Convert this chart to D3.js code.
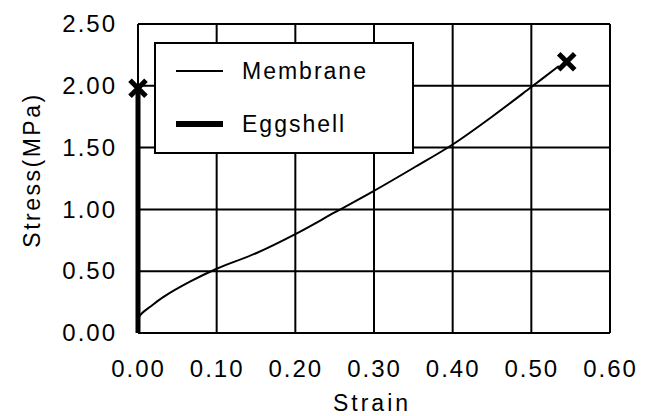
<!DOCTYPE html>
<html>
<head>
<meta charset="utf-8">
<script src="https://cdn.jsdelivr.net/npm/d3@7"></script>
<style>
  body { margin: 0; background: #fff; }
  text { font-family: "Liberation Sans", Arial, sans-serif; fill: #000; }
</style>
</head>
<body>
<div id="chart"></div>
<script>
// datos
const xTicks = [0, 0.1, 0.2, 0.3, 0.4, 0.5, 0.6];
const yTicks = [0, 0.5, 1.0, 1.5, 2.0, 2.5];

const membraneStrain = [0, 0.005, 0.015, 0.032, 0.066, 0.1, 0.15, 0.2, 0.25, 0.3, 0.35, 0.4, 0.45, 0.5, 0.535];
const membraneStress = [0.12, 0.16, 0.21, 0.29, 0.415, 0.52, 0.645, 0.80, 0.975, 1.15, 1.335, 1.525, 1.75, 1.99, 2.16];

const eggshellStrain = [0, 0];
const eggshellStress = [0, 1.98];

// puntos de rotura (X)
const breakStrain = [0, 0.545];
const breakStress = [1.98, 2.195];

const seriesNames = ["Membrane", "Eggshell"];

const width = 650, height = 416;
const margin = { top: 24, right: 40, bottom: 83, left: 138 };

const svg = d3.select("#chart")
  .append("svg")
  .attr("width", width)
  .attr("height", height);

const x = d3.scaleLinear().domain([0, 0.6]).range([margin.left, width - margin.right]);
const y = d3.scaleLinear().domain([0, 2.5]).range([height - margin.bottom, margin.top]);

// rejilla
svg.append("g")
  .selectAll("line.vgrid")
  .data(xTicks)
  .enter()
  .append("line")
  .attr("x1", d => x(d)).attr("x2", d => x(d))
  .attr("y1", y(0)).attr("y2", y(2.5))
  .style("stroke", "#000")
  .style("stroke-width", 2);

svg.append("g")
  .selectAll("line.hgrid")
  .data(yTicks)
  .enter()
  .append("line")
  .attr("x1", x(0)).attr("x2", x(0.6))
  .attr("y1", d => y(d)).attr("y2", d => y(d))
  .style("stroke", "#000")
  .style("stroke-width", 2);

// ejes (solo etiquetas)
const xAxis = svg.append("g")
  .attr("transform", `translate(0,${y(0)})`)
  .call(d3.axisBottom(x).tickValues(xTicks).tickFormat(d3.format(".2f")).tickSize(0).tickPadding(27));
xAxis.select(".domain").remove();
xAxis.selectAll("text")
  .style("font-size", "24px")
  .style("letter-spacing", "2px")
  .style("font-family", "'Liberation Sans', Arial, sans-serif");

const yAxis = svg.append("g")
  .attr("transform", `translate(${x(0)},0)`)
  .call(d3.axisLeft(y).tickValues(yTicks).tickFormat(d3.format(".2f")).tickSize(0).tickPadding(21));
yAxis.select(".domain").remove();
yAxis.selectAll("text")
  .style("font-size", "24px")
  .style("letter-spacing", "2px")
  .style("font-family", "'Liberation Sans', Arial, sans-serif");

// titulos de ejes
svg.append("text")
  .attr("x", (x(0) + x(0.6)) / 2 - 2)
  .attr("y", 411)
  .style("text-anchor", "middle")
  .style("font-size", "23px")
  .style("letter-spacing", "3px")
  .text("Strain");

svg.append("text")
  .attr("transform", "translate(40,170) rotate(-90)")
  .style("text-anchor", "middle")
  .style("font-size", "23px")
  .style("letter-spacing", "2.5px")
  .text("Stress(MPa)");

// lineas
const line = d3.line().x(d => x(d[0])).y(d => y(d[1]));

svg.append("path")
  .datum(d3.zip(eggshellStrain, eggshellStress))
  .attr("d", line)
  .style("fill", "none")
  .style("stroke", "#000")
  .style("stroke-width", 5);

svg.append("path")
  .datum(d3.zip(membraneStrain, membraneStress))
  .attr("d", line.curve(d3.curveCatmullRom.alpha(0.5)))
  .style("fill", "none")
  .style("stroke", "#000")
  .style("stroke-width", 2);

// marcadores X
svg.append("g")
  .selectAll("path.mark")
  .data(d3.zip(breakStrain, breakStress))
  .enter()
  .append("path")
  .attr("transform", d => `translate(${x(d[0])},${y(d[1])})`)
  .attr("d", "M-8,-8L8,8M-8,8L8,-8")
  .style("fill", "none")
  .style("stroke", "#000")
  .style("stroke-width", 5);

// leyenda
const legend = svg.append("g").attr("transform", "translate(155,43)");
legend.append("rect")
  .attr("width", 258).attr("height", 110)
  .style("fill", "#fff")
  .style("stroke", "#000")
  .style("stroke-width", 2);

const legendRows = legend.selectAll("g.row")
  .data(seriesNames)
  .enter()
  .append("g")
  .attr("transform", (d, i) => `translate(0,${28 + i * 53})`);

legendRows.append("line")
  .attr("x1", 21).attr("x2", 68)
  .attr("y1", 0).attr("y2", 0)
  .style("stroke", "#000")
  .style("stroke-width", (d, i) => i === 0 ? 2 : 6);

legendRows.append("text")
  .attr("x", 87)
  .attr("y", 8)
  .style("font-size", "23px")
  .style("letter-spacing", "2px")
  .text(d => d);
</script>
</body>
</html>
